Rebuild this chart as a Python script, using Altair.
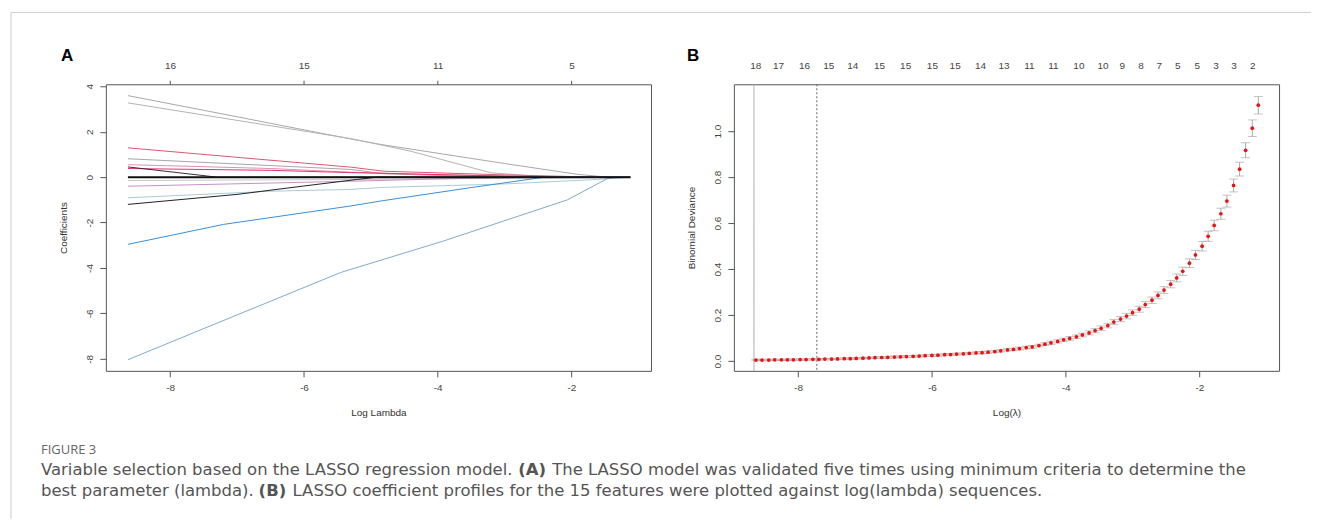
import json
import altair as alt
import pandas as pd

FONT = "Liberation Sans"
CAP_FONT = "Open Sans"
TXT_FONT = "DejaVu Sans"
W, H = 546, 287

# ---------------- Panel A : LASSO coefficient profiles ----------------
A_X_DOMAIN = [-8.96, -0.81]
A_Y_DOMAIN = [-8.53, 4.09]
a_x_ticks = [-8, -6, -4, -2]
a_y_ticks = [-8, -6, -4, -2, 0, 2, 4]
a_top_pos = [-8, -6, -4, -2]
a_top_lab = ["16", "15", "11", "5"]

# (log lambda, coefficient), one list per variable
path_grey_1 = [(-8.63, 3.59), (-7.0, 2.66), (-5.3, 1.68), (-4.85, 1.44), (-3.0, 0.60), (-1.9, 0.12), (-1.45, 0.0), (-1.12, 0.0)]
path_grey_2 = [(-8.63, 3.27), (-5.3, 1.70), (-4.4, 1.14), (-3.2, 0.19), (-2.5, 0.04), (-2.0, 0.0), (-1.12, 0.0)]
path_red = [(-8.63, 1.29), (-5.3, 0.44), (-4.8, 0.26), (-3.0, 0.10), (-1.6, 0.0), (-1.12, 0.0)]
path_grey_3 = [(-8.63, 0.81), (-5.3, 0.34), (-4.8, 0.15), (-3.5, 0.03), (-3.0, 0.0), (-1.12, 0.0)]
path_pink = [(-8.63, 0.55), (-6.5, 0.38), (-5.3, 0.22), (-4.0, 0.10), (-2.5, 0.02), (-2.0, 0.0), (-1.12, 0.0)]
path_hotpink = [(-8.63, 0.38), (-6.5, 0.30), (-5.3, 0.20), (-3.5, 0.08), (-2.2, 0.0), (-1.12, 0.0)]
path_dark = [(-8.63, 0.45), (-7.3, 0.0), (-1.12, 0.0)]
path_lightgrey = [(-8.63, -0.15), (-5.0, -0.10), (-3.0, -0.05), (-1.12, 0.0)]
path_violet = [(-8.63, -0.40), (-5.3, -0.18), (-4.0, -0.08), (-2.5, 0.0), (-1.12, 0.0)]
path_lightcyan = [(-8.63, -0.91), (-6.5, -0.62), (-5.3, -0.54), (-4.8, -0.45), (-3.0, -0.30), (-1.6, -0.10), (-1.12, 0.0)]
path_black = [(-8.63, -1.20), (-7.0, -0.76), (-6.0, -0.39), (-5.2, -0.10), (-4.9, 0.0), (-1.12, 0.0)]
path_blue = [(-8.63, -2.96), (-7.2, -2.08), (-5.3, -1.27), (-4.85, -1.05), (-3.5, -0.46), (-2.4, 0.0), (-1.12, 0.0)]
path_bigblue = [(-8.63, -8.04), (-7.0, -6.07), (-5.45, -4.20), (-3.91, -2.81), (-2.06, -1.00), (-1.46, -0.06), (-1.3, 0.0), (-1.12, 0.0)]
path_zero = [(-8.63, 0.0), (-1.12, 0.0)]

path_names = ["grey1", "grey2", "red", "grey3", "pink", "hotpink", "dark",
              "lightgrey", "violet", "lightcyan", "black", "blue", "bigblue"]
path_colors = ["#a8a8a8", "#b4b4b4", "#e0566e", "#a6a6a6", "#e58cb4", "#e8306a", "#3a2a3a",
               "#c8c8c8", "#c890c8", "#a8ccd8", "#222222", "#3a8fd6", "#80aad0"]
path_points = [path_grey_1, path_grey_2, path_red, path_grey_3, path_pink, path_hotpink, path_dark,
               path_lightgrey, path_violet, path_lightcyan, path_black, path_blue, path_bigblue]

rows = []
for name, pts in zip(path_names, path_points):
    for i, (x, y) in enumerate(pts):
        rows.append({"path": name, "i": i, "x": x, "y": y})
dfA = pd.DataFrame(rows)
dfZero = pd.DataFrame([{"x": x, "y": y, "i": i} for i, (x, y) in enumerate(path_zero)])

# ---------------- Panel B : cross-validation curve ----------------
B_X_DOMAIN = [-8.96, -0.81]
B_Y_DOMAIN = [-0.042, 1.204]
b_x_ticks = [-8, -6, -4, -2]
b_y_ticks = [0.0, 0.2, 0.4, 0.6, 0.8, 1.0]
b_top_pos = [-8.64, -8.30, -7.91, -7.55, -7.19, -6.79, -6.40, -6.00, -5.66, -5.28, -4.93, -4.55,
             -4.19, -3.81, -3.45, -3.16, -2.88, -2.61, -2.33, -2.04, -1.76, -1.49, -1.21]
b_top_lab = ["18", "17", "16", "15", "14", "15", "15", "15", "15", "14", "13", "11",
             "11", "10", "10", "9", "8", "7", "5", "5", "3", "3", "2"]

log_lambda = [-8.63, -8.54, -8.44, -8.35, -8.25, -8.16, -8.07, -7.97, -7.88, -7.78,
              -7.69, -7.60, -7.50, -7.41, -7.31, -7.22, -7.13, -7.03, -6.94, -6.85,
              -6.75, -6.66, -6.56, -6.47, -6.38, -6.28, -6.19, -6.10, -6.00, -5.91,
              -5.81, -5.72, -5.63, -5.53, -5.44, -5.34, -5.25, -5.16, -5.06, -4.97,
              -4.87, -4.78, -4.69, -4.59, -4.50, -4.40, -4.31, -4.22, -4.12, -4.03,
              -3.94, -3.84, -3.75, -3.65, -3.56, -3.47, -3.37, -3.28, -3.18, -3.09,
              -3.00, -2.90, -2.81, -2.71, -2.62, -2.53, -2.43, -2.34, -2.25, -2.15,
              -2.06, -1.96, -1.87, -1.78, -1.68, -1.59, -1.49, -1.40, -1.31, -1.21,
              -1.12]
deviance = [0.005, 0.005, 0.005, 0.006, 0.006, 0.006, 0.006, 0.007, 0.007, 0.008,
            0.008, 0.009, 0.009, 0.010, 0.011, 0.011, 0.012, 0.013, 0.014, 0.015,
            0.016, 0.017, 0.018, 0.019, 0.020, 0.021, 0.022, 0.024, 0.025, 0.026,
            0.028, 0.029, 0.031, 0.032, 0.034, 0.036, 0.037, 0.039, 0.042, 0.045,
            0.049, 0.051, 0.055, 0.059, 0.062, 0.068, 0.074, 0.080, 0.086, 0.093,
            0.099, 0.106, 0.114, 0.123, 0.133, 0.143, 0.155, 0.170, 0.183, 0.196,
            0.211, 0.226, 0.246, 0.265, 0.286, 0.309, 0.335, 0.362, 0.391, 0.426,
            0.462, 0.500, 0.543, 0.590, 0.641, 0.696, 0.764, 0.835, 0.917, 1.013,
            1.113]
dev_se = [0.003, 0.003, 0.003, 0.003, 0.003, 0.003, 0.003, 0.003, 0.003, 0.003,
          0.003, 0.003, 0.003, 0.003, 0.003, 0.003, 0.003, 0.003, 0.003, 0.003,
          0.004, 0.004, 0.004, 0.004, 0.004, 0.004, 0.004, 0.004, 0.004, 0.004,
          0.004, 0.004, 0.004, 0.004, 0.004, 0.004, 0.005, 0.005, 0.005, 0.005,
          0.005, 0.005, 0.006, 0.006, 0.006, 0.006, 0.006, 0.007, 0.007, 0.007,
          0.008, 0.008, 0.008, 0.009, 0.009, 0.010, 0.010, 0.011, 0.011, 0.012,
          0.012, 0.013, 0.013, 0.014, 0.015, 0.015, 0.016, 0.017, 0.018, 0.019,
          0.020, 0.021, 0.022, 0.023, 0.024, 0.026, 0.028, 0.030, 0.033, 0.036,
          0.038]
vline_pos = [-8.66, -7.72]
vline_kind = ["min", "1se"]

dfB = pd.DataFrame({"x": log_lambda, "y": deviance, "se": dev_se})
dfB["lo"] = dfB["y"] - dfB["se"]
dfB["hi"] = dfB["y"] + dfB["se"]
dfV = pd.DataFrame({"x": vline_pos, "kind": vline_kind})

# ---------------- caption / decoration (pixel layout, relative to panel A) ----------------
caption_plain = pd.DataFrame({
    "px": [-65, 447, -65, 187],
    "py": [386, 386, 407, 407],
    "txt": ["Variable selection based on the LASSO regression model.",
            "The LASSO model was validated five times using minimum criteria to determine the",
            "best parameter (lambda).",
            "LASSO coefficient profiles for the 15 features were plotted against log(lambda) sequences."],
})
caption_bold = pd.DataFrame({"px": [413, 153], "py": [386, 407], "txt": ["(A)", "(B)"]})
fig_label = pd.DataFrame({"px": [-65], "py": [366], "txt": ["FIGURE 3"]})
border = pd.DataFrame({"x1": [-95, -95], "x2": [1207, -95], "y1": [-72, -72], "y2": [-72, 435]})

MINUS = "replace(datum.label, '\u2212', '-')"


def top_expr(pos, lab):
    return "%s[indexof(%s, datum.value)]" % (json.dumps(lab), json.dumps(pos))


def bottom_axis(ticks, title):
    return alt.Axis(values=ticks, title=title, labelExpr=MINUS, tickSize=6, labelPadding=6,
                    titlePadding=15, labelFlush=False)


def left_axis(ticks, title, fmt=None):
    kw = dict(values=ticks, title=title, tickSize=6, labelAngle=270, labelAlign="center",
              labelBaseline="bottom", labelPadding=5, titlePadding=16, labelFlush=False)
    if fmt:
        kw["format"] = fmt
    else:
        kw["labelExpr"] = MINUS
    return alt.Axis(**kw)


def px_text(df, size, weight="normal", color="#555555", font=CAP_FONT, align="left"):
    return alt.Chart(df).mark_text(align=align, baseline="middle", font=font, fontSize=size,
                                   fontWeight=weight, color=color).encode(
        x=alt.X("px:Q", scale=None, axis=None),
        y=alt.Y("py:Q", scale=None, axis=None),
        text="txt:N")


# ----- build panel A -----
scA_x = alt.Scale(domain=A_X_DOMAIN, nice=False, zero=False)
scA_y = alt.Scale(domain=A_Y_DOMAIN, nice=False, zero=False)

linesA = alt.Chart(dfA).mark_line(strokeWidth=1).encode(
    x=alt.X("x:Q", scale=scA_x, axis=bottom_axis(a_x_ticks, "Log Lambda")),
    y=alt.Y("y:Q", scale=scA_y, axis=left_axis(a_y_ticks, "Coefficients")),
    color=alt.Color("path:N", scale=alt.Scale(domain=path_names, range=path_colors), legend=None),
    order="i:Q",
)
zeroA = alt.Chart(dfZero).mark_line(strokeWidth=2, color="#111111").encode(
    x=alt.X("x:Q", scale=scA_x, axis=None),
    y=alt.Y("y:Q", scale=scA_y, axis=None),
)
topA = alt.Chart(pd.DataFrame({"x": a_top_pos})).mark_point(opacity=0).encode(
    x=alt.X("x:Q", scale=scA_x, axis=alt.Axis(orient="top", values=a_top_pos, title=None,
                                              labelExpr=top_expr(a_top_pos, a_top_lab),
                                              tickSize=4, labelPadding=10, labelFlush=False,
                                              labelOverlap=False)),
)
borderA = alt.Chart(border).mark_rule(color="#cccccc", strokeWidth=1).encode(
    x=alt.X("x1:Q", scale=None, axis=None), x2="x2:Q",
    y=alt.Y("y1:Q", scale=None, axis=None), y2="y2:Q",
)
letterA = px_text(pd.DataFrame({"px": [-45], "py": [-28], "txt": ["A"]}), 17, "bold", "#000000", FONT)

panelA = alt.layer(
    linesA, zeroA, topA, borderA, letterA,
    px_text(fig_label, 13, color="#666666"),
    px_text(caption_plain, 16.5, font=TXT_FONT),
    px_text(caption_bold, 16.5, weight="bold", font=TXT_FONT),
).resolve_axis(x="independent", y="independent").properties(width=W, height=H)

# ----- build panel B -----
scB_x = alt.Scale(domain=B_X_DOMAIN, nice=False, zero=False)
scB_y = alt.Scale(domain=B_Y_DOMAIN, nice=False, zero=False)

vlinesB = alt.Chart(dfV).mark_rule(strokeWidth=1).encode(
    x=alt.X("x:Q", scale=scB_x, axis=None),
    color=alt.Color("kind:N", scale=alt.Scale(domain=vline_kind, range=["#aaaaaa", "#666666"]), legend=None),
    strokeDash=alt.StrokeDash("kind:N", scale=alt.Scale(domain=vline_kind, range=[[1, 0], [2, 2]]), legend=None),
)
errB = alt.Chart(dfB).mark_rule(color="#aaaaaa", strokeWidth=1).encode(
    x=alt.X("x:Q", scale=scB_x, axis=None),
    y=alt.Y("lo:Q", scale=scB_y, axis=None), y2="hi:Q",
)
capLo = alt.Chart(dfB).mark_tick(orient="horizontal", size=9, thickness=1, color="#aaaaaa").encode(
    x=alt.X("x:Q", scale=scB_x, axis=None),
    y=alt.Y("lo:Q", scale=scB_y, axis=None),
)
capHi = alt.Chart(dfB).mark_tick(orient="horizontal", size=9, thickness=1, color="#aaaaaa").encode(
    x=alt.X("x:Q", scale=scB_x, axis=None),
    y=alt.Y("hi:Q", scale=scB_y, axis=None),
)
ptsB = alt.Chart(dfB).mark_circle(size=14, color="#ee1111", opacity=1).encode(
    x=alt.X("x:Q", scale=scB_x, axis=bottom_axis(b_x_ticks, "Log(\u03bb)")),
    y=alt.Y("y:Q", scale=scB_y, axis=left_axis(b_y_ticks, "Binomial Deviance", fmt=".1f")),
)
topB = alt.Chart(pd.DataFrame({"x": b_top_pos})).mark_point(opacity=0).encode(
    x=alt.X("x:Q", scale=scB_x, axis=alt.Axis(orient="top", values=b_top_pos, title=None,
                                              labelExpr=top_expr(b_top_pos, b_top_lab),
                                              ticks=False, tickSize=0, labelPadding=14,
                                              labelFlush=False, labelOverlap=False)),
)
letterB = px_text(pd.DataFrame({"px": [-47], "py": [-28], "txt": ["B"]}), 17, "bold", "#000000", FONT)

panelB = alt.layer(vlinesB, errB, capLo, capHi, ptsB, topB, letterB).resolve_axis(
    x="independent", y="independent").resolve_scale(color="independent").properties(width=W, height=H)

chart = alt.hconcat(panelA, panelB, spacing=83, bounds="flush").properties(
    padding={"left": 2, "top": 3, "right": 2, "bottom": 0},
    background="white",
).configure_view(stroke="#555555", strokeWidth=1).configure_axis(
    labelFont=FONT, titleFont=FONT, labelFontSize=10, titleFontSize=10,
    labelColor="#444444", titleColor="#333333", tickColor="#555555",
    domain=False, grid=False, titleFontWeight="normal",
)

chart.save("out.html", embed_options={"renderer": "svg", "actions": False})
